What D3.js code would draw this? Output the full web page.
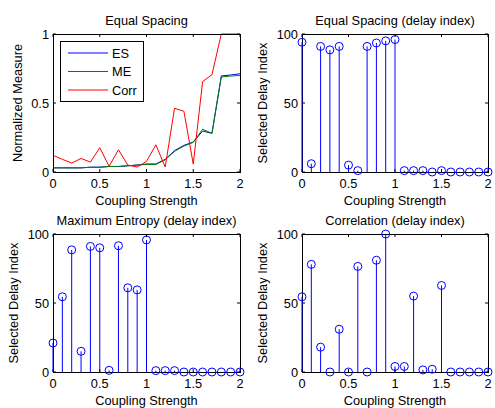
<!DOCTYPE html>
<html><head><meta charset="utf-8">
<script src="https://cdn.jsdelivr.net/npm/d3@7"></script>
<style>body{margin:0;background:#fff}svg text{font-family:Arial,"Liberation Sans",sans-serif;fill:#000}</style>
</head><body>
<svg id="c" width="495" height="408"></svg>
<script>
const coupling = [0,0.1,0.2,0.3,0.4,0.5,0.6,0.7,0.8,0.9,1.0,1.1,1.2,1.3,1.4,1.5,1.6,1.7,1.8,1.9,2.0];
const esMeasure = [0.03,0.03,0.03,0.03,0.035,0.035,0.04,0.04,0.045,0.05,0.058,0.058,0.092,0.155,0.193,0.217,0.297,0.28,0.696,0.703,0.712];
const meMeasure = [0.03,0.03,0.03,0.03,0.034,0.034,0.04,0.04,0.045,0.05,0.055,0.055,0.088,0.15,0.188,0.215,0.31,0.28,0.688,0.695,0.70];
const corrMeasure = [0.121,0.092,0.065,0.098,0.072,0.176,0.041,0.161,0.05,0.036,0.077,0.197,0.036,0.462,0.44,0.057,0.655,0.705,1.0,1.0,1.0];
const esDelay = [94,6,91,88.5,91,5,1,91,93.5,95,96,1,1,1,0,1,0,0,0,0,0];
const meDelay = [21,54.5,88.5,15,91,90,1.2,91.5,61,59.5,95.7,1,1,1,0,0,0,0,0,0,0];
const corrDelay = [54.5,78,18,0,31,0,76.5,0,81,100,4,4,55,1.5,2,62.7,0,0,0,0,0];
const xTicks = [0,0.5,1,1.5,2];
const xTickLabels = ["0","0.5","1","1.5","2"];
const yTicksNorm = [0,0.5,1];
const yTickLabelsNorm = ["0","0.5","1"];
const yTicksDelay = [0,50,100];
const yTickLabelsDelay = ["0","50","100"];
const legendNames = ["ES","ME","Corr"];
const lineColors = ["#0000ff","#008000","#ff0000"];

const svg = d3.select("#c");
const FS = 12.8;

function panel(box, yDomain, yTicks, yLabels, title, ylabel, ylOff) {
  const x = d3.scaleLinear().domain([0,2]).range([box.l, box.r]);
  const y = d3.scaleLinear().domain(yDomain).range([box.b, box.t]);
  const g = svg.append("g");
  const tl = 3;
  xTicks.forEach((v,i) => {
    g.append("line").attr("x1",x(v)).attr("x2",x(v)).attr("y1",box.b).attr("y2",box.b-tl).attr("stroke","#000");
    g.append("line").attr("x1",x(v)).attr("x2",x(v)).attr("y1",box.t).attr("y2",box.t+tl).attr("stroke","#000");
    g.append("text").attr("x",x(v)).attr("y",box.b+16).attr("text-anchor","middle").attr("font-size",FS).text(xTickLabels[i]);
  });
  yTicks.forEach((v,i) => {
    g.append("line").attr("x1",box.l).attr("x2",box.l+tl).attr("y1",y(v)).attr("y2",y(v)).attr("stroke","#000");
    g.append("line").attr("x1",box.r).attr("x2",box.r-tl).attr("y1",y(v)).attr("y2",y(v)).attr("stroke","#000");
    g.append("text").attr("x",box.l-4).attr("y",y(v)+4.5).attr("text-anchor","end").attr("font-size",FS).text(yLabels[i]);
  });
  g.append("text").attr("x",(box.l+box.r)/2).attr("y",box.t-9).attr("text-anchor","middle").attr("font-size",FS).text(title);
  g.append("text").attr("x",(box.l+box.r)/2).attr("y",box.b+32.5).attr("text-anchor","middle").attr("font-size",FS).text("Coupling Strength");
  g.append("text").attr("transform",`translate(${box.l-ylOff},${(box.t+box.b)/2}) rotate(-90)`).attr("text-anchor","middle").attr("font-size",FS).text(ylabel);
  return {x,y,g};
}

function frame(g, box) {
  g.append("rect").attr("x",box.l+0.5).attr("y",box.t+0.5).attr("width",box.r-box.l).attr("height",box.b-box.t)
    .attr("fill","none").attr("stroke","#000").attr("stroke-width",1);
}

// Panel 1
const b1 = {l:53,r:240,t:34,b:172};
const p1 = panel(b1,[0,1],yTicksNorm,yTickLabelsNorm,"Equal Spacing","Normalized Measure",31);
[esMeasure, meMeasure, corrMeasure].forEach((s,k) => {
  const line = d3.line().x((d,i)=>p1.x(coupling[i])).y(d=>p1.y(d));
  p1.g.append("path").datum(s).attr("d",line).attr("fill","none").attr("stroke",lineColors[k]).attr("stroke-width",1);
});
frame(p1.g,b1);
const lg = p1.g.append("g");
lg.append("rect").attr("x",60.5).attr("y",41.5).attr("width",83).attr("height",60).attr("fill","#fff").attr("stroke","#000");
legendNames.forEach((n,i)=>{
  const yy = 53 + i*18.5;
  lg.append("line").attr("x1",68).attr("x2",108).attr("y1",yy).attr("y2",yy).attr("stroke",lineColors[i]);
  lg.append("text").attr("x",112).attr("y",yy+4.5).attr("font-size",FS).text(n);
});

function stemPanel(box, data, title) {
  const p = panel(box,[0,100],yTicksDelay,yTickLabelsDelay,title,"Selected Delay Index",35);
  frame(p.g, box);
  p.g.selectAll(".stem").data(data).enter().append("line")
    .attr("x1",(d,i)=>p.x(coupling[i])).attr("x2",(d,i)=>p.x(coupling[i]))
    .attr("y1",p.y(0)).attr("y2",d=>p.y(d)).attr("stroke","#0000ff").attr("stroke-width",1);
  p.g.selectAll(".mk").data(data).enter().append("circle")
    .attr("cx",(d,i)=>p.x(coupling[i])).attr("cy",d=>p.y(d)).attr("r",4)
    .attr("fill","none").attr("stroke","#0000ff").attr("stroke-width",1);
}
stemPanel({l:302,r:488,t:34,b:172}, esDelay, "Equal Spacing (delay index)");
stemPanel({l:53,r:240,t:234,b:372}, meDelay, "Maximum Entropy (delay index)");
stemPanel({l:302,r:488,t:234,b:372}, corrDelay, "Correlation (delay index)");
</script>
</body></html>
